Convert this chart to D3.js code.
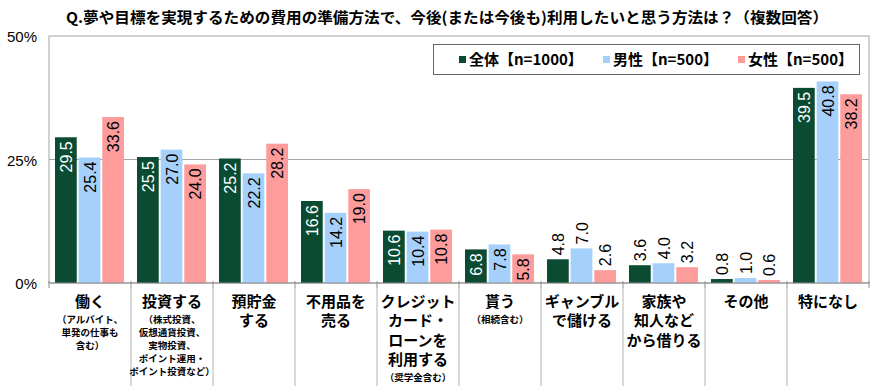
<!DOCTYPE html>
<html>
<head>
<meta charset="utf-8">
<script src="https://cdn.jsdelivr.net/npm/d3@7"></script>
<style>
  body { margin: 0; background: #fff; }
  svg { display: block; }
</style>
</head>
<body>
<svg id="chart" width="880" height="386"></svg>
<script>
// data
const categories = ["働く", "投資する", "預貯金する", "不用品を売る", "クレジットカード・ローンを利用する",
  "貰う", "ギャンブルで儲ける", "家族や知人などから借りる", "その他", "特になし"];
const mainLines = [["働く"], ["投資する"], ["預貯金", "する"], ["不用品を", "売る"],
  ["クレジット", "カード・", "ローンを", "利用する"], ["貰う"], ["ギャンブル", "で儲ける"],
  ["家族や", "知人など", "から借りる"], ["その他"], ["特になし"]];
const subLines = [["（アルバイト、", "単発の仕事も", "含む）"],
  ["（株式投資、", "仮想通貨投資、", "実物投資、", "ポイント運用・", "ポイント投資など）"],
  [], [], ["（奨学金含む）"], ["（相続含む）"], [], [], [], []];
const seriesNames = ["全体【n=1000】", "男性【n=500】", "女性【n=500】"];
const totalValues = [29.5, 25.5, 25.2, 16.6, 10.6, 6.8, 4.8, 3.6, 0.8, 39.5];
const maleValues = [25.4, 27.0, 22.2, 14.2, 10.4, 7.8, 7.0, 4.0, 1.0, 40.8];
const femaleValues = [33.6, 24.0, 28.2, 19.0, 10.8, 5.8, 2.6, 3.2, 0.6, 38.2];
const yTicks = [0, 25, 50];
// groups whose value labels sit above the bars
const labelsAbove = ["ギャンブルで儲ける", "家族や知人などから借りる", "その他"];

const colors = ["#0b4b31", "#a4d0fb", "#fe9b9b"];
const labelColors = ["#fff", "#000", "#000"];
const title = "Q.夢や目標を実現するための費用の準備方法で、今後(または今後も)利用したいと思う方法は？（複数回答）";

const svg = d3.select("#chart");
const plotL = 49, plotR = 869, plotT = 36, plotB = 283;
const jp = "'Noto Sans CJK JP', 'Noto Sans', sans-serif";
const num = "'Liberation Sans', Arial, sans-serif";

const x0 = d3.scaleBand().domain(categories).range([plotL, plotR]);
const x1 = d3.scaleBand().domain(d3.range(3)).range([6, 75]).paddingInner(0.08);
const y = d3.scaleLinear().domain([0, 50]).range([plotB, plotT]);

// title
svg.append("text")
  .attr("x", 447).attr("y", 23)
  .attr("text-anchor", "middle")
  .attr("textLength", 762).attr("lengthAdjust", "spacingAndGlyphs")
  .style("font-family", jp).style("font-weight", "bold").style("font-size", "15px")
  .text(title);

// plot frame + grid
svg.append("rect")
  .attr("x", plotL).attr("y", plotT)
  .attr("width", plotR - plotL).attr("height", plotB - plotT)
  .attr("fill", "#fff").attr("stroke", "#a6a6a6");
svg.append("line")
  .attr("x1", plotL).attr("x2", plotR)
  .attr("y1", y(25)).attr("y2", y(25))
  .attr("stroke", "#a6a6a6");

// y axis labels
svg.selectAll(".ytick").data(yTicks).enter().append("text")
  .attr("class", "ytick")
  .attr("x", 37).attr("y", d => y(d) + 6)
  .attr("text-anchor", "end")
  .style("font-family", num).style("font-size", "15px")
  .text(d => d + "%");

// bars
const series = [totalValues, maleValues, femaleValues];
const groups = svg.selectAll(".grp").data(categories).enter().append("g")
  .attr("class", "grp")
  .attr("transform", d => "translate(" + x0(d) + ",0)");

groups.each(function (cat, ci) {
  const g = d3.select(this);
  const above = labelsAbove.includes(cat);
  series.forEach(function (vals, si) {
    const v = vals[ci];
    const bx = x1(si);
    g.append("rect")
      .attr("x", bx).attr("y", y(v))
      .attr("width", x1.bandwidth()).attr("height", y(0) - y(v))
      .attr("fill", colors[si]);
    const cx = bx + x1.bandwidth() / 2;
    const ty = above ? y(v) - 4 : y(v) + 4;
    g.append("text")
      .attr("transform", "translate(" + (cx + 6) + "," + ty + ") rotate(-90)")
      .attr("text-anchor", above ? "start" : "end")
      .attr("fill", above ? "#000" : labelColors[si])
      .style("font-family", num).style("font-size", "16px")
      .text(v.toFixed(1));
  });
});

// bottom axis line, ticks and separators
svg.append("line")
  .attr("x1", plotL).attr("x2", plotR)
  .attr("y1", plotB).attr("y2", plotB)
  .attr("stroke", "#8c8c8c");
const bounds = categories.map(c => x0(c)).concat([plotR]);
svg.selectAll(".tick").data(bounds).enter().append("line")
  .attr("x1", d => d).attr("x2", d => d)
  .attr("y1", plotB - 2).attr("y2", plotB + 5)
  .attr("stroke", "#8c8c8c");
svg.selectAll(".sep").data(bounds.slice(1, -1)).enter().append("line")
  .attr("x1", d => d).attr("x2", d => d)
  .attr("y1", plotB + 5).attr("y2", 386)
  .attr("stroke", "#b4b4b4");

// category labels
categories.forEach(function (cat, ci) {
  const cx = x0(cat) + x0.bandwidth() / 2;
  const lines = mainLines[ci];
  lines.forEach(function (t, li) {
    svg.append("text")
      .attr("x", cx).attr("y", 307 + li * 19.3)
      .attr("text-anchor", "middle")
      .style("font-family", jp).style("font-weight", "bold").style("font-size", "15px")
      .text(t);
  });
  const subTop = 302 + (lines.length - 1) * 19.3 + 17.5;
  subLines[ci].forEach(function (t, li) {
    svg.append("text")
      .attr("x", cx).attr("y", subTop + 3.5 + li * 13)
      .attr("text-anchor", "middle")
      .style("font-family", jp).style("font-weight", "bold").style("font-size", "9.5px")
      .text(t);
  });
});

// legend
const legend = svg.append("g");
legend.append("rect")
  .attr("x", 433.5).attr("y", 44.5).attr("width", 426).attr("height", 30)
  .attr("fill", "#fff").attr("stroke", "#666");
const legendX = [459, 603, 738];
seriesNames.forEach(function (name, i) {
  legend.append("rect")
    .attr("x", legendX[i]).attr("y", 56)
    .attr("width", 7).attr("height", 7)
    .attr("fill", colors[i]);
  legend.append("text")
    .attr("x", legendX[i] + 10).attr("y", 65)
    .style("font-family", jp).style("font-weight", "bold").style("font-size", "15px")
    .text(name);
});
</script>
</body>
</html>
